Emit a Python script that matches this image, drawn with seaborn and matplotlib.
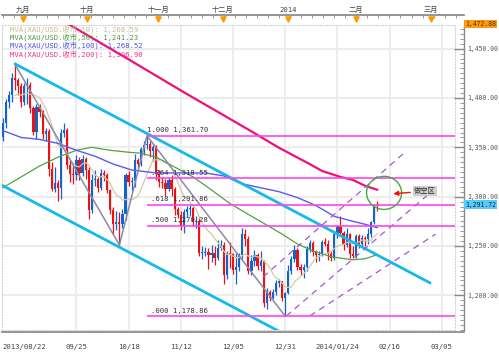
import matplotlib
matplotlib.use("Agg")
import matplotlib.pyplot as plt
import seaborn as sns
import numpy as np
import pandas as pd
from matplotlib.patches import Ellipse

sns.set_theme(style="white")
plt.rcParams['font.family'] = ['DejaVu Sans Mono', 'Noto Sans CJK SC', 'DejaVu Sans']
MONO = ['DejaVu Sans Mono', 'Noto Sans CJK SC']

# ---------------- data (XAU/USD daily, 2013/08/22 .. 2014/02/12) ----------------
opens = [1360,1375,1396,1403,1420,1418,1412,1396,1412,1413,1390,1366,1391,1386,1363,1367,1328,1308,1314,1309,
         1365,1368,1332,1323,1322,1337,1324,1338,1327,1286,1317,1318,1309,1324,1322,1307,1286,1272,1274,1272,
         1282,1322,1315,1316,1337,1333,1348,1352,1353,1346,1350,1323,1315,1314,1308,1317,1308,1287,1281,1270,
         1284,1287,1288,1274,1275,1243,1243,1244,1241,1243,1238,1248,1251,1221,1243,1242,1226,1229,1241,1262,
         1257,1225,1235,1241,1230,1235,1192,1203,1197,1203,1212,1214,1197,1202,1225,1237,1246,1229,1226,1229,
         1247,1253,1244,1241,1242,1254,1252,1242,1238,1262,1270,1263,1251,1262,1242,1240,1260,1252,1258,1257,
         1262,1274,1292]
highs = [1380,1399,1407,1425,1434,1420,1415,1415,1420,1416,1392,1394,1394,1388,1370,1369,1335,1330,1317,1369,
         1375,1370,1337,1331,1342,1340,1342,1340,1330,1323,1327,1320,1328,1327,1324,1308,1289,1285,1284,1287,
         1324,1326,1320,1343,1339,1350,1356,1361.7,1356,1352,1352,1327,1320,1318,1320,1322,1310,1290,1285,1287,
         1291,1292,1291,1280,1278,1250,1249,1248,1251,1250,1256,1256,1254,1245,1254,1243,1243,1243,1268,1267,
         1260,1241,1246,1243,1245,1236,1207,1205,1206,1215,1217,1214,1203,1231,1240,1251,1248,1232,1232,1250,
         1256,1255,1246,1245,1256,1258,1256,1245,1265,1271,1280,1265,1268,1263,1250,1262,1262,1261,1260,1268,
         1275,1292,1296]
lows = [1356,1370,1390,1396,1408,1403,1391,1393,1394,1385,1362,1358,1381,1358,1356,1321,1306,1305,1296,1298,
        1360,1328,1315,1313,1317,1317,1321,1318,1277,1283,1311,1305,1307,1316,1304,1282,1262,1266,1251,1268,
        1276,1311,1306,1310,1328,1331,1342,1348,1340,1336,1317,1310,1309,1301,1306,1301,1281,1278,1266,1263,
        1279,1280,1270,1268,1240,1237,1240,1227,1234,1231,1236,1246,1211,1217,1228,1222,1211,1225,1237,1250,
        1222,1221,1230,1226,1225,1188,1186,1194,1196,1200,1208,1194,1178.86,1201,1222,1234,1226,1221,1218,1225,
        1244,1240,1234,1235,1240,1250,1236,1235,1236,1258,1260,1246,1249,1238,1238,1238,1248,1250,1250,1252,
        1259,1272,1285]
closes = [1375,1396,1403,1420,1418,1412,1396,1412,1413,1390,1366,1391,1386,1363,1367,1328,1308,1314,1309,1365,
          1368,1332,1323,1322,1337,1324,1338,1327,1286,1317,1318,1309,1324,1322,1307,1286,1272,1274,1272,1282,
          1322,1315,1316,1337,1333,1348,1352,1353,1346,1350,1323,1315,1314,1308,1317,1308,1287,1281,1270,1284,
          1287,1288,1274,1275,1243,1243,1244,1241,1243,1238,1248,1251,1221,1243,1242,1226,1229,1241,1262,1257,
          1225,1235,1241,1230,1235,1192,1203,1197,1203,1212,1214,1197,1202,1225,1237,1246,1229,1226,1229,1247,
          1253,1244,1241,1242,1254,1252,1242,1238,1262,1270,1263,1251,1262,1242,1240,1260,1252,1258,1257,1262,
          1274,1291,1291.72]

ma50_idx = [0,6,12,18,24,29,35,41,45,50,56,62,67,74,80,85,91,96,101,107,114,118,122]
ma50_val = [1309,1320,1331,1340,1347,1350,1347,1345,1344,1340,1330,1320,1309,1293,1282,1273,1262,1252,1245,1239,1236,1237,1241.23]
ma100_idx = [0,6,12,18,24,30,36,42,50,58,66,72,78,84,90,96,102,108,114,118,122]
ma100_val = [1367,1360,1358,1354,1347,1341,1333,1327,1324,1324,1324,1321,1313,1309,1305,1299,1291,1280,1275,1272,1268.52]
ma200_idx = [20,40,60,80,90,100,104,110,114,118,122]
ma200_val = [1477.5,1441,1404,1368,1349.5,1333,1326,1320,1317,1311,1306.90]

zigzag_idx = [4,38,47,92]
zigzag_val = [1434,1251,1361.7,1178.86]

chan_up_idx = [4,139.2];  chan_up_val = [1434.6,1212.5]
chan_lo_idx = [-0.2,95];  chan_lo_val = [1311.4,1155.3]
dash_idx = [[84.8,131],[92.3,138.5],[100,141]]
dash_val = [[1218.6,1345],[1178.86,1302],[1179,1262]]

fib_ratio = ['1.000','.764','.618','.500','.000']
fib_level = [1361.70,1318.55,1291.86,1270.28,1178.86]

bottom_tick_idx = [0,24,41,58,75,92,109,126,143]
bottom_tick_lab = ['2013/08/22','09/25','10/18','11/12','12/05','12/31','2014/01/24','02/16','03/05']
month_idx = [6.6,27.5,50.6,71.7,92.9,115,139.5]
month_lab = ['九月','十月','十一月','十二月','2014','二月','三月']

legend_lab = ['MVA(XAU/USD.收市,10): 1,268.59','MVA(XAU/USD.收市,50): 1,241.23',
              'MVA(XAU/USD.收市,100): 1,268.52','MVA(XAU/USD.收市,200): 1,306.90']
last_price = 1291.72
top_price = 1472.88

# ---------------- layout ----------------
W, H = 499, 352
FS = 5.2
FSR = 4.7
fig = plt.figure(figsize=(W/100, H/100), dpi=100)
fig.patch.set_facecolor('white')
def box(x0, y0, x1, y1):
    return [x0/W, 1-y1/H, (x1-x0)/W, (y1-y0)/H]

YMIN, YMAX = 1164.8, 1474.0
XMIN = -0.23
ax = fig.add_axes(box(2, 25, 455, 330))
ax.set_xlim(XMIN, 147.3)
ax.set_ylim(YMIN, YMAX)
ax.set_facecolor('white')
for s in ax.spines.values():
    s.set_color('#d4d4d4'); s.set_linestyle(':'); s.set_linewidth(0.8)
ax.set_xticks(bottom_tick_idx[1:])
ax.set_yticks(np.arange(1200, 1451, 50))
ax.grid(True, color='#ececec', linewidth=1.3)
ax.tick_params(left=False, bottom=False, labelleft=False, labelbottom=False)

df = pd.DataFrame({'i': np.arange(len(closes)), 'o': opens, 'h': highs, 'l': lows, 'c': closes})
up = df['c'] >= df['o']
colors = np.where(up, '#1462cc', '#f01010')
ax.vlines(df['i'], df['l'], df['h'], colors=colors, linewidth=0.9, zorder=3)
body = (df['c'] - df['o']).abs().clip(lower=1.0)
ax.bar(df['i'], body, bottom=np.minimum(df['o'], df['c']), width=0.72, color=colors, linewidth=0, zorder=4)

ma10 = df['c'].rolling(10, min_periods=5).mean()
sns.lineplot(x=df['i'][4:], y=ma10[4:], ax=ax, color='#d8c8a0', linewidth=0.9, zorder=5)
sns.lineplot(x=ma50_idx, y=ma50_val, ax=ax, color='#55a040', linewidth=0.9, zorder=5)
sns.lineplot(x=ma100_idx, y=ma100_val, ax=ax, color='#5a5af0', linewidth=1.0, zorder=5)
sns.lineplot(x=ma200_idx, y=ma200_val, ax=ax, color='#ee1177', linewidth=1.6, zorder=5)

ax.plot(zigzag_idx, zigzag_val, color='#8a8aa8', linewidth=1.1, zorder=6)
ax.plot(chan_up_idx, chan_up_val, color='#17b8ec', linewidth=2.0, zorder=6)
ax.plot(chan_lo_idx, chan_lo_val, color='#17b8ec', linewidth=2.0, zorder=6)
for xi, yv in zip(dash_idx, dash_val):
    ax.plot(xi, yv, color='#a855cc', linewidth=0.9, linestyle=(0, (5, 4)), zorder=6)

for r, lv in zip(fib_ratio, fib_level):
    ax.hlines(lv, 47, 147.3, color='#ff44ee', linewidth=1.2, zorder=6)
    ax.text(66.8, lv + 2.5, f'{r} {lv:,.2f}', ha='right', va='bottom', fontsize=FS, color='#333333',
            zorder=7, family=MONO)

ax.add_patch(Ellipse((124.2, 1303.8), 11.4, 33.5, fill=False, edgecolor='#44aa44', linewidth=1.0, zorder=7))
ax.annotate('', xy=(126.3, 1302.7), xytext=(133.6, 1304.5),
            arrowprops=dict(arrowstyle='-|>', color='#ee1111', lw=1.0, mutation_scale=7), zorder=8)
ax.text(134.0, 1305.5, '做空区', fontsize=FS, color='#333333', va='center', ha='left', zorder=8,
        family=['Noto Sans CJK SC'],
        bbox=dict(boxstyle='square,pad=0.15', facecolor='#cfcfcf', edgecolor='none'))

# legend
for k, (t, c) in enumerate(zip(legend_lab, ['#c8b890', '#4a9a3a', '#5050ee', '#ee3388'])):
    fig.text(10/W, 1-(29+8.2*k)/H, t, fontsize=FS, color=c, va='center', ha='left', family=MONO)

# right price ruler
rax = fig.add_axes(box(455, 25, 464, 330))
rax.set_ylim(YMIN, YMAX); rax.set_xlim(0, 1)
rax.patch.set_alpha(0)
for n in ['left', 'top', 'bottom']:
    rax.spines[n].set_visible(False)
rax.spines['right'].set_color('#888888'); rax.spines['right'].set_linewidth(1.0)
rax.set_xticks([])
rax.set_yticks(np.arange(1200, 1451, 50))
rax.set_yticks(np.arange(1165, 1475, 5), minor=True)
rax.set_yticklabels([f'{v:,.2f}' for v in np.arange(1200, 1451, 50)], family=MONO)
rax.yaxis.tick_right()
rax.tick_params(axis='y', which='major', direction='in', length=7, width=1, color='#888888',
                labelsize=FSR, labelcolor='#555555', pad=2)
rax.tick_params(axis='y', which='minor', direction='in', length=3, width=0.6, color='#888888')
fig.text(465/W, 1-24/H, f'{top_price:,.2f}', fontsize=FSR, color='#553300', va='center', ha='left',
         family=MONO, bbox=dict(boxstyle='square,pad=0.2', facecolor='#ff9a10', edgecolor='none'))
rax.text(1.1, last_price, f'{last_price:,.2f}', transform=rax.get_yaxis_transform(), fontsize=FSR,
         color='#222222', va='center', ha='left', clip_on=False, family=MONO,
         bbox=dict(boxstyle='square,pad=0.2', facecolor='#55ccff', edgecolor='none'))

# top month ruler
tax = fig.add_axes(box(2, 15, 464, 25))
tax.set_xlim(XMIN, 150.3); tax.set_ylim(0, 1)
tax.patch.set_alpha(0)
for n in ['left', 'right', 'bottom']:
    tax.spines[n].set_visible(False)
tax.spines['top'].set_color('#888888')
tax.set_yticks([])
tax.xaxis.tick_top()
tax.set_xticks(month_idx)
tax.set_xticklabels(month_lab, family=MONO)
tax.set_xticks(np.arange(0, 150, 3.6), minor=True)
tax.tick_params(axis='x', which='major', direction='in', length=0, labelsize=FS, labelcolor='#444444', pad=1.5)
tax.tick_params(axis='x', which='minor', direction='in', length=2.5, width=0.6, color='#888888')
tax.scatter(month_idx, [0.62]*len(month_idx), marker='v', s=14, color='#ff9900', zorder=5, clip_on=False)

# bottom date ruler
bax = fig.add_axes(box(2, 322, 464, 332))
bax.set_xlim(XMIN, 150.3); bax.set_ylim(0, 1)
bax.patch.set_alpha(0)
for n in ['left', 'right', 'top']:
    bax.spines[n].set_visible(False)
bax.spines['bottom'].set_color('#888888')
bax.set_yticks([])
bax.set_xticks(bottom_tick_idx)
bax.set_xticklabels(bottom_tick_lab, family=MONO)
bax.set_xticks(np.arange(0, 150, 17/6), minor=True)
bax.tick_params(axis='x', which='major', direction='inout', length=7, width=0.8, color='#888888',
                labelsize=FS, labelcolor='#444444', pad=5)
bax.tick_params(axis='x', which='minor', direction='in', length=2.5, width=0.6, color='#888888')
bax.get_xticklabels()[0].set_ha('left')

fig.savefig('out.png', dpi=100, facecolor='white')
